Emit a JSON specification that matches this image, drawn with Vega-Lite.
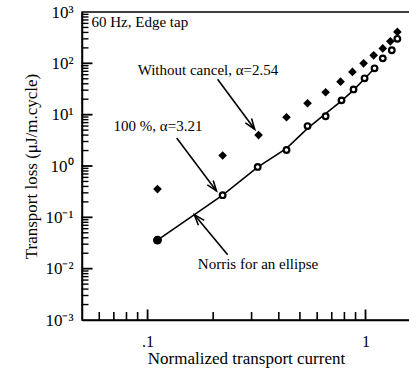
{
  "$schema": "https://vega.github.io/schema/vega-lite/v6.json",
  "width": 328,
  "height": 308,
  "autosize": "none",
  "padding": {"left": 82, "top": 12, "right": 0, "bottom": 49},
  "background": "white",
  "config": {
    "view": {"stroke": "black", "strokeWidth": 1.5}
  },
  "datasets": {
    "without": [
      {"I": 0.111, "Q": 0.355}, {"I": 0.221, "Q": 1.6}, {"I": 0.323, "Q": 4.0}, {"I": 0.434, "Q": 8.9},
      {"I": 0.542, "Q": 16.7}, {"I": 0.656, "Q": 27.3}, {"I": 0.768, "Q": 44}, {"I": 0.871, "Q": 68},
      {"I": 0.98, "Q": 100}, {"I": 1.09, "Q": 143}, {"I": 1.2, "Q": 195}, {"I": 1.3, "Q": 268}, {"I": 1.4, "Q": 410}
    ],
    "full": [
      {"I": 0.111, "Q": 0.036}, {"I": 0.221, "Q": 0.27}, {"I": 0.32, "Q": 0.96}, {"I": 0.434, "Q": 2.05},
      {"I": 0.542, "Q": 6.0}, {"I": 0.656, "Q": 9.3}, {"I": 0.776, "Q": 19}, {"I": 0.881, "Q": 31},
      {"I": 0.99, "Q": 51}, {"I": 1.1, "Q": 80}, {"I": 1.2, "Q": 125}, {"I": 1.32, "Q": 180}, {"I": 1.4, "Q": 300}
    ],
    "norris": [
      {"I": 0.111, "Q": 0.036}, {"I": 0.221, "Q": 0.27}, {"I": 0.32, "Q": 0.95}, {"I": 0.434, "Q": 2.2},
      {"I": 0.542, "Q": 5.4}, {"I": 0.656, "Q": 10.5}, {"I": 0.776, "Q": 18.5}, {"I": 0.881, "Q": 30},
      {"I": 0.99, "Q": 50}, {"I": 1.1, "Q": 80}
    ],
    "shafts": [
      {"x": 0.2095, "y": 48.9, "x2": 0.31, "y2": 5.2},
      {"x": 0.136, "y": 3.5, "x2": 0.207, "y2": 0.327},
      {"x": 0.233, "y": 0.0187, "x2": 0.164, "y2": 0.112}
    ],
    "heads": [
      {"id": "a", "k": 1, "x": 0.3, "y": 8.4}, {"id": "a", "k": 2, "x": 0.31, "y": 5.2}, {"id": "a", "k": 3, "x": 0.281, "y": 6.9},
      {"id": "b", "k": 1, "x": 0.2, "y": 0.523}, {"id": "b", "k": 2, "x": 0.207, "y": 0.327}, {"id": "b", "k": 3, "x": 0.188, "y": 0.428},
      {"id": "c", "k": 1, "x": 0.171, "y": 0.0703}, {"id": "c", "k": 2, "x": 0.164, "y": 0.112}, {"id": "c", "k": 3, "x": 0.182, "y": 0.0871}
    ],
    "notes": [
      {"x": 0.0553, "y": 625, "t": "60 Hz, Edge tap"},
      {"x": 0.09, "y": 74.8, "t": "Without cancel, α=2.54"},
      {"x": 0.0698, "y": 5.98, "t": "100 %, α=3.21"},
      {"x": 0.17, "y": 0.0125, "t": "Norris for an ellipse"}
    ],
    "xticks": [
      {"v": 0.06, "k": "minor"}, {"v": 0.07, "k": "minor"}, {"v": 0.08, "k": "minor"}, {"v": 0.09, "k": "minor"},
      {"v": 0.1, "k": "major"}, {"v": 0.2, "k": "minor"}, {"v": 0.3, "k": "minor"}, {"v": 0.4, "k": "minor"},
      {"v": 0.5, "k": "minor"}, {"v": 0.6, "k": "minor"}, {"v": 0.7, "k": "minor"}, {"v": 0.8, "k": "minor"},
      {"v": 0.9, "k": "minor"}, {"v": 1, "k": "major"}
    ],
    "yticks": [
      {"v": 0.002, "k": "minor"}, {"v": 0.003, "k": "minor"}, {"v": 0.004, "k": "minor"}, {"v": 0.005, "k": "minor"}, {"v": 0.006, "k": "minor"}, {"v": 0.007, "k": "minor"}, {"v": 0.008, "k": "minor"}, {"v": 0.009, "k": "minor"},
      {"v": 0.01, "k": "major"},
      {"v": 0.02, "k": "minor"}, {"v": 0.03, "k": "minor"}, {"v": 0.04, "k": "minor"}, {"v": 0.05, "k": "minor"}, {"v": 0.06, "k": "minor"}, {"v": 0.07, "k": "minor"}, {"v": 0.08, "k": "minor"}, {"v": 0.09, "k": "minor"},
      {"v": 0.1, "k": "major"},
      {"v": 0.2, "k": "minor"}, {"v": 0.3, "k": "minor"}, {"v": 0.4, "k": "minor"}, {"v": 0.5, "k": "minor"}, {"v": 0.6, "k": "minor"}, {"v": 0.7, "k": "minor"}, {"v": 0.8, "k": "minor"}, {"v": 0.9, "k": "minor"},
      {"v": 1, "k": "major"},
      {"v": 2, "k": "minor"}, {"v": 3, "k": "minor"}, {"v": 4, "k": "minor"}, {"v": 5, "k": "minor"}, {"v": 6, "k": "minor"}, {"v": 7, "k": "minor"}, {"v": 8, "k": "minor"}, {"v": 9, "k": "minor"},
      {"v": 10, "k": "major"},
      {"v": 20, "k": "minor"}, {"v": 30, "k": "minor"}, {"v": 40, "k": "minor"}, {"v": 50, "k": "minor"}, {"v": 60, "k": "minor"}, {"v": 70, "k": "minor"}, {"v": 80, "k": "minor"}, {"v": 90, "k": "minor"},
      {"v": 100, "k": "major"},
      {"v": 200, "k": "minor"}, {"v": 300, "k": "minor"}, {"v": 400, "k": "minor"}, {"v": 500, "k": "minor"}, {"v": 600, "k": "minor"}, {"v": 700, "k": "minor"}, {"v": 800, "k": "minor"}, {"v": 900, "k": "minor"}
    ]
  },
  "layer": [
    {
      "data": {"name": "norris"},
      "mark": {"type": "line", "color": "black", "strokeWidth": 1.6},
      "encoding": {
        "x": {"field": "I", "type": "quantitative",
          "scale": {"type": "log", "domain": [0.05, 1.6], "nice": false},
          "axis": {
            "title": "Normalized transport current", "titleFont": "Liberation Serif", "titleFontSize": 17, "titleFontWeight": "normal", "titleColor": "black", "titlePadding": 1,
            "values": [0.1, 1],
            "labelExpr": "datum.value == 0.1 ? '.1' : datum.value == 1 ? '1' : ''",
            "labelFont": "Liberation Serif", "labelFontSize": 16, "labelColor": "black", "labelPadding": 13, "labelFlush": false,
            "grid": false, "domainColor": "black", "domainWidth": 1.5,
            "ticks": false
          }},
        "y": {"field": "Q", "type": "quantitative",
          "scale": {"type": "log", "domain": [0.001, 1000], "nice": false},
          "axis": {
            "title": "Transport loss (μJ/m.cycle)", "titleFont": "Liberation Serif", "titleFontSize": 17, "titleFontWeight": "normal", "titleColor": "black", "titlePadding": 4,
            "values": [0.001, 0.01, 0.1, 1, 10, 100, 1000],
            "labelExpr": "datum.value==1000?'10³':datum.value==100?'10²':datum.value==10?'10¹':datum.value==1?'10⁰':datum.value==0.1?'10⁻¹':datum.value==0.01?'10⁻²':datum.value==0.001?'10⁻³':''",
            "labelFont": "Liberation Serif", "labelFontSize": 17, "labelColor": "black", "labelPadding": 9, "labelFlush": false,
            "grid": false, "domainColor": "black", "domainWidth": 1.5,
            "ticks": false
          }}
      }
    },
    {
      "data": {"name": "xticks"},
      "transform": [{"filter": "datum.k == 'minor'"}],
      "mark": {"type": "tick", "orient": "vertical", "color": "black", "size": 8, "thickness": 1.6, "yOffset": -4, "opacity": 1},
      "encoding": {"x": {"field": "v", "type": "quantitative"}, "y": {"datum": 0.001, "type": "quantitative"}}
    },
    {
      "data": {"name": "xticks"},
      "transform": [{"filter": "datum.k == 'major'"}],
      "mark": {"type": "tick", "orient": "vertical", "color": "black", "size": 11, "thickness": 1.8, "yOffset": -5, "opacity": 1},
      "encoding": {"x": {"field": "v", "type": "quantitative"}, "y": {"datum": 0.001, "type": "quantitative"}}
    },
    {
      "data": {"name": "yticks"},
      "transform": [{"filter": "datum.k == 'minor'"}],
      "mark": {"type": "tick", "orient": "horizontal", "color": "black", "size": 7, "thickness": 1.4, "xOffset": 3, "opacity": 1},
      "encoding": {"y": {"field": "v", "type": "quantitative"}, "x": {"datum": 0.05, "type": "quantitative"}}
    },
    {
      "data": {"name": "yticks"},
      "transform": [{"filter": "datum.k == 'major'"}],
      "mark": {"type": "tick", "orient": "horizontal", "color": "black", "size": 11, "thickness": 1.8, "xOffset": 5, "opacity": 1},
      "encoding": {"y": {"field": "v", "type": "quantitative"}, "x": {"datum": 0.05, "type": "quantitative"}}
    },
    {
      "data": {"name": "without"},
      "mark": {"type": "point", "shape": "diamond", "filled": true, "color": "black", "opacity": 1, "size": 75},
      "encoding": {"x": {"field": "I", "type": "quantitative"}, "y": {"field": "Q", "type": "quantitative"}}
    },
    {
      "data": {"name": "full"},
      "mark": {"type": "point", "shape": "circle", "filled": false, "color": "black", "strokeWidth": 2.2, "opacity": 1, "size": 32, "fill": "white", "fillOpacity": 1},
      "encoding": {"x": {"field": "I", "type": "quantitative"}, "y": {"field": "Q", "type": "quantitative"}}
    },
    {
      "data": {"name": "full"},
      "transform": [{"filter": "datum.I < 0.15"}],
      "mark": {"type": "point", "shape": "circle", "filled": true, "color": "black", "opacity": 1, "size": 80},
      "encoding": {"x": {"field": "I", "type": "quantitative"}, "y": {"field": "Q", "type": "quantitative"}}
    },
    {
      "data": {"name": "shafts"},
      "mark": {"type": "rule", "color": "black", "strokeWidth": 1.6},
      "encoding": {"x": {"field": "x", "type": "quantitative"}, "y": {"field": "y", "type": "quantitative"}, "x2": {"field": "x2"}, "y2": {"field": "y2"}}
    },
    {
      "data": {"name": "heads"},
      "mark": {"type": "line", "color": "black", "strokeWidth": 1.6},
      "encoding": {"x": {"field": "x", "type": "quantitative"}, "y": {"field": "y", "type": "quantitative"}, "detail": {"field": "id"}, "order": {"field": "k"}}
    },
    {
      "data": {"name": "notes"},
      "mark": {"type": "text", "align": "left", "baseline": "middle", "font": "Liberation Serif", "fontSize": 15, "color": "black"},
      "encoding": {"x": {"field": "x", "type": "quantitative"}, "y": {"field": "y", "type": "quantitative"}, "text": {"field": "t"}}
    }
  ]
}
